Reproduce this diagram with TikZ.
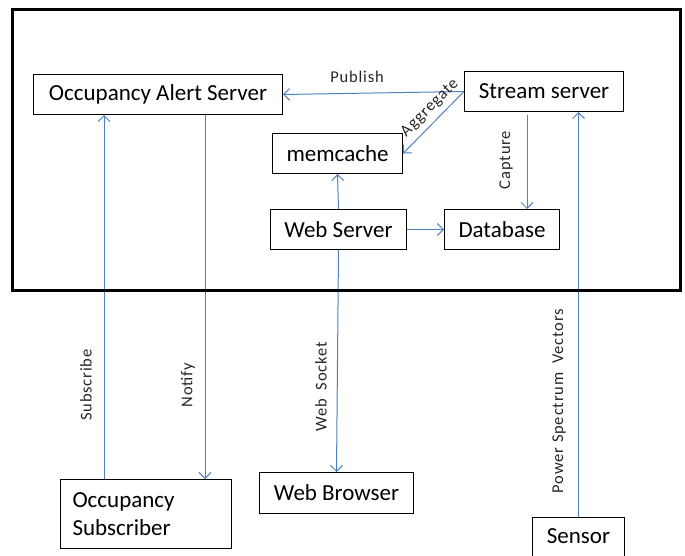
\documentclass[tikz,border=0pt]{standalone}
\usepackage{fontspec}
\setmainfont{Carlito}
\usetikzlibrary{arrows.meta}
\definecolor{linkblue}{HTML}{4F81BD}
\begin{document}
\begin{tikzpicture}[x=1pt,y=-1pt,
  box/.style={draw, line width=1pt, font=\fontsize{23}{28}\selectfont, inner sep=0pt, anchor=north west},
  link/.style={draw=linkblue, line width=1pt, -{Straight Barb[length=6pt,width=12pt,line width=1pt]}},
  lbl/.style={font=\fontsize{16.5}{18}\selectfont\addfontfeature{LetterSpace=5}, text=black!85, inner sep=0pt}]
\useasboundingbox (0,0) rectangle (685,555);

% components
\node[box, minimum width=249pt, minimum height=40pt] (alert) at (33,74) {Occupancy Alert Server};
\node[box, minimum width=159pt, minimum height=40pt] (stream) at (464,71) {Stream server};
\node[box, minimum width=130pt, minimum height=40pt] (memcache) at (272,133) {memcache};
\node[box, minimum width=136pt, minimum height=40pt] (web) at (270,209) {Web Server};
\node[box, minimum width=115pt, minimum height=40pt] (db) at (444,209) {Database};
\node[box, minimum width=171pt, minimum height=69pt, align=left, text width=147pt, inner xsep=12pt] (sub) at (60,479) {Occupancy\\Subscriber};
\node[box, minimum width=154pt, minimum height=41pt] (browser) at (259,472) {Web Browser};
\node[box, minimum width=92pt, inner ysep=8pt, text height=18pt, text depth=30pt] (sensor) at (532,517) {Sensor};

% connectors
\draw[link] (stream.west) -- (alert.east);
\draw[link] (stream.west) -- (memcache.east);
\draw[link] (web.north) -- (memcache.south);
\draw[link] (web.east) -- (db.west);
\draw[link] ([xshift=-17pt,yshift=-3pt]stream.south) -- ([xshift=-17pt]stream.south |- db.north);
\draw[link] (sensor.north) -- (sensor.north |- stream.south);
\draw[link] ([xshift=44pt]sub.north west) -- ([xshift=44pt]sub.north west |- alert.south);
\draw[link] ([xshift=-27pt]sub.north east |- alert.south) -- ([xshift=-27pt]sub.north east);
\draw[link] (web.south) -- (browser.north);

% labels
\node[lbl] (lpub) at (357,77) {Publish};
\node[lbl, rotate=45] (lagg) at (430,108) {Aggregate};
\node[lbl, rotate=90] (lcap) at (506,160) {Capture};
\node[lbl, rotate=90] (lsub) at (86,385) {Subscribe};
\node[lbl, rotate=90] (lnot) at (188,385) {Notify};
\node[lbl, rotate=90] (lws) at (321,387) {Web\ \ Socket};
\node[lbl, rotate=90] (lpsv) at (559,401) {Power Spectrum\ \ Vectors};

% system boundary
\draw[line width=3pt] (12,9) rectangle (680,290);
\end{tikzpicture}
\end{document}
